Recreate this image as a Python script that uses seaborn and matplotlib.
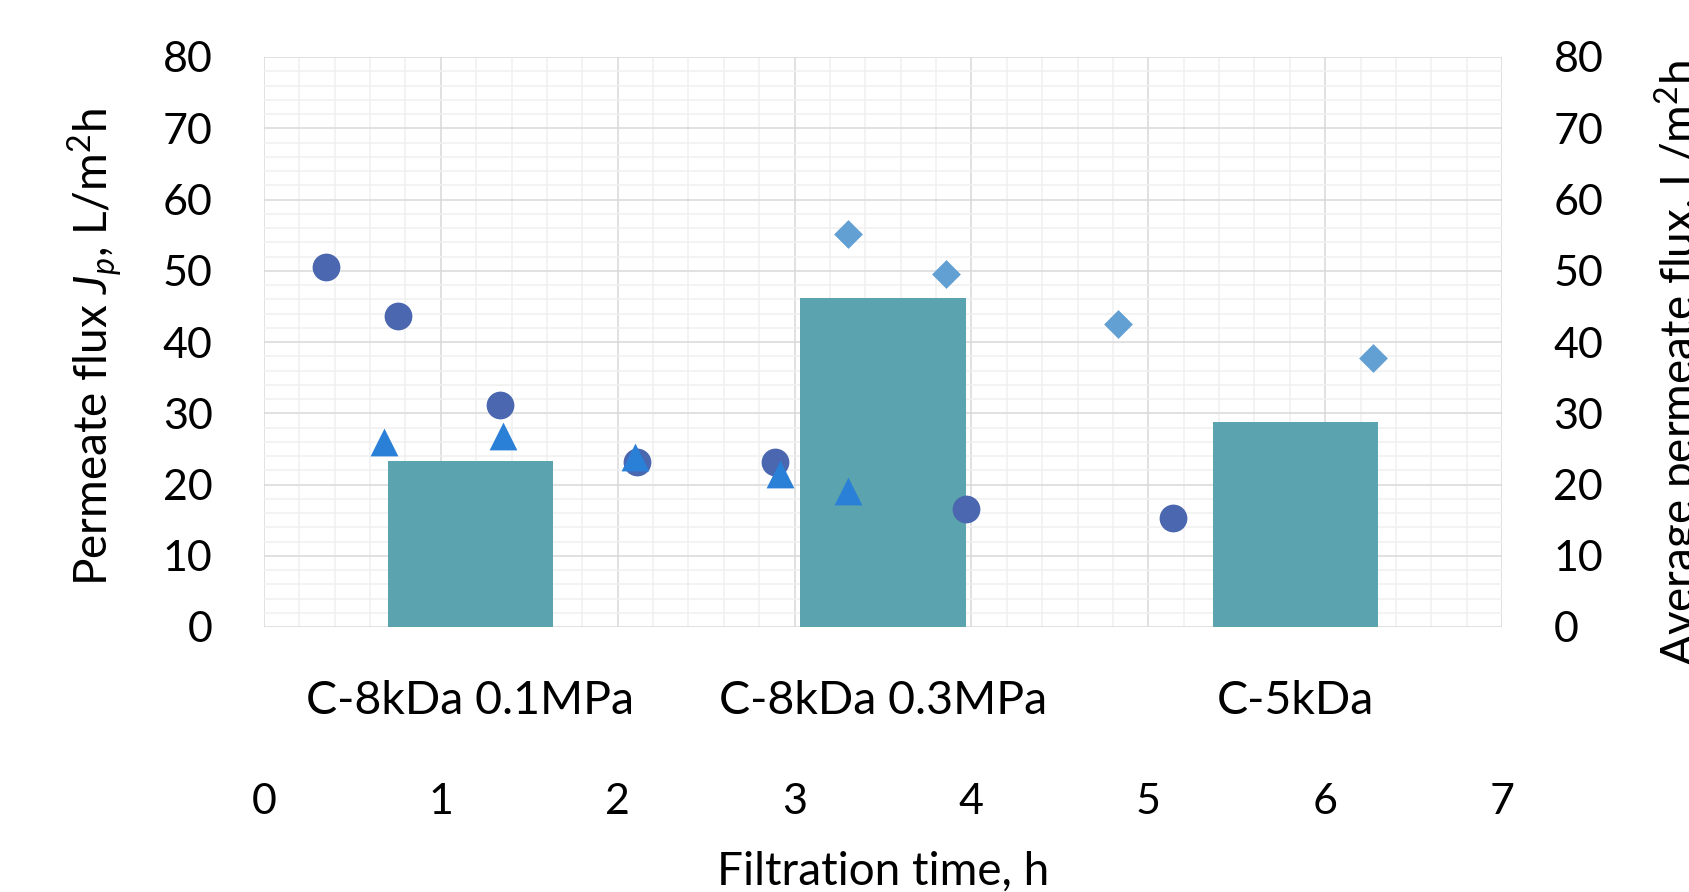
import matplotlib
matplotlib.use('Agg')
import matplotlib.pyplot as plt
import seaborn as sns
import pandas as pd
from matplotlib.ticker import MultipleLocator

sns.set_theme(style='white')
plt.rcParams['font.family'] = ['Lato', 'DejaVu Sans']
plt.rcParams['mathtext.fontset'] = 'custom'
plt.rcParams['mathtext.rm'] = 'Lato'
plt.rcParams['mathtext.it'] = 'Lato:italic'

# ---------------- data ----------------
categories = ['C-8kDa 0.1MPa', 'C-8kDa 0.3MPa', 'C-5kDa']
avg_flux = [23.3, 46.2, 28.8]

circle_time = [0.35, 0.76, 1.335, 2.11, 2.89, 3.97, 5.14]
circle_flux = [50.5, 43.6, 31.1, 23.1, 23.1, 16.5, 15.3]
triangle_time = [0.68, 1.35, 2.10, 2.92, 3.30]
triangle_flux = [25.9, 26.8, 23.8, 21.5, 19.1]
diamond_time = [3.30, 3.855, 4.83, 6.27]
diamond_flux = [55.2, 49.6, 42.5, 37.8]

x_ticks = [0, 1, 2, 3, 4, 5, 6, 7]
y_ticks = [0, 10, 20, 30, 40, 50, 60, 70, 80]

series_names = ['circle', 'triangle', 'diamond']
series_colors = {'circle': '#4a67b0', 'triangle': '#2a7fd6', 'diamond': '#629fd2'}
series_markers = {'circle': 'o', 'triangle': '^', 'diamond': 'D'}
series_sizes = {'circle': 400, 'triangle': 400, 'diamond': 215}

scatter_df = pd.concat([
    pd.DataFrame({'time': circle_time, 'flux': circle_flux, 'series': 'circle'}),
    pd.DataFrame({'time': triangle_time, 'flux': triangle_flux, 'series': 'triangle'}),
    pd.DataFrame({'time': diamond_time, 'flux': diamond_flux, 'series': 'diamond'}),
], ignore_index=True)
bar_df = pd.DataFrame({'membrane': categories, 'avg': avg_flux})

# ---------------- figure ----------------
W, H = 1689, 892
fig = plt.figure(figsize=(W / 100, H / 100), dpi=100)
fig.patch.set_facecolor('white')
rect = [264 / W, (H - 627) / H, (1502 - 264) / W, (627 - 57) / H]

FS = 31        # tick labels
FS_CAT = 33.5  # category labels
FS_T = 33      # axis titles
TXT = '#000000'

# grid axes (bottom layer) with primary y and numeric x
ax_grid = fig.add_axes(rect, zorder=0)
ax_grid.set_xlim(0, 7)
ax_grid.set_ylim(0, 80)
ax_grid.set_xticks(x_ticks)
ax_grid.set_yticks(y_ticks)
ax_grid.xaxis.set_minor_locator(MultipleLocator(0.2))
ax_grid.yaxis.set_minor_locator(MultipleLocator(2))
ax_grid.grid(which='minor', color='#f0f0f0', linewidth=1.1, zorder=0)
ax_grid.grid(which='major', color='#d9d9d9', linewidth=1.1, zorder=0.5)
ax_grid.set_axisbelow(True)
for s in ax_grid.spines.values():
    s.set_visible(False)
ax_grid.tick_params(axis='both', which='both', length=0)
ax_grid.tick_params(axis='y', labelsize=FS, pad=37, labelcolor=TXT)
ax_grid.tick_params(axis='x', labelsize=FS, pad=112, labelcolor=TXT)

# bar axes (middle layer): categories + secondary y axis
ax_bar = fig.add_axes(rect, zorder=1)
ax_bar.patch.set_visible(False)
sns.barplot(data=bar_df, x='membrane', y='avg', ax=ax_bar, color='#5ba3ae',
            saturation=1, width=0.4, linewidth=0, zorder=2)
ax_bar.set_xlim(-0.5, len(categories) - 0.5)
ax_bar.set_ylim(0, 80)
ax_bar.set_yticks(y_ticks)
ax_bar.yaxis.tick_right()
ax_bar.set_xlabel('')
ax_bar.set_ylabel('')
for s in ax_bar.spines.values():
    s.set_visible(False)
ax_bar.tick_params(axis='both', which='both', length=0)
ax_bar.tick_params(axis='y', labelsize=FS, pad=37, labelcolor=TXT)
ax_bar.tick_params(axis='x', labelsize=FS_CAT, pad=38, labelcolor=TXT)
for lbl in ax_bar.get_yticklabels():
    lbl.set_horizontalalignment('left')

# scatter axes (top layer)
ax_sc = fig.add_axes(rect, zorder=2, sharex=ax_grid, sharey=ax_grid)
ax_sc.patch.set_visible(False)
for name in series_names:
    sub = scatter_df[scatter_df['series'] == name]
    sns.scatterplot(data=sub, x='time', y='flux', ax=ax_sc,
                    color=series_colors[name], marker=series_markers[name],
                    s=series_sizes[name], linewidth=0, legend=False, zorder=3)
ax_sc.set_xlim(0, 7)
ax_sc.set_ylim(0, 80)
ax_sc.set_xlabel('')
ax_sc.set_ylabel('')
for s in ax_sc.spines.values():
    s.set_visible(False)
ax_sc.tick_params(axis='both', which='both', length=0, labelleft=False,
                  labelbottom=False)
ax_sc.grid(False)

# axis titles
fig.text(95 / W, 1 - 347 / H, r'Permeate flux $J_p$, L/m$^2$h', rotation=90,
         ha='center', va='center', fontsize=FS_T, color=TXT)
fig.text(1652 / W, 1 - 363 / H, r'Average permeate flux, L/m$^2$h', rotation=90,
         ha='left', va='center', fontsize=FS_T, color=TXT)
fig.text((264 + 1502) / 2 / W, 1 - 872 / H, 'Filtration time, h',
         ha='center', va='center', fontsize=FS_T, color=TXT)

fig.savefig('out.png', dpi=100, facecolor='white')
